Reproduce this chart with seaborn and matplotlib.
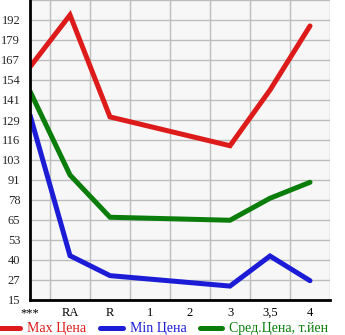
import numpy as np
import pandas as pd
import matplotlib
matplotlib.use("Agg")
import matplotlib.pyplot as plt
import seaborn as sns

categories = ["***", "RA", "R", "1", "2", "3", "3,5", "4"]
max_price = [162.3, 195.1, 130.7, np.nan, np.nan, 112.5, 147.7, 188.2]
min_price = [131.9, 43.0, 30.4, np.nan, np.nan, 23.8, 42.8, 27.2]
avg_price = [146.9, 94.0, 67.3, np.nan, np.nan, 65.4, 79.3, 89.4]
series_names = ["Max Цена", "Min Цена", "Сред.Цена, т.йен"]
series_colors = ["#dd1b1b", "#1c1cd6", "#0b7d0b"]
y_tick_labels = ["15", "27", "40", "53", "65", "78", "91", "103", "116",
                 "129", "141", "154", "167", "179", "192"]
y_min, y_step = 15, 12.64

sns.set_style("white")
plt.rcParams["font.family"] = ["Liberation Serif", "DejaVu Serif"]

fig = plt.figure(figsize=(3.45, 3.35), dpi=100)
ax = fig.add_axes([30 / 345, 35 / 335, 300 / 345, 300 / 335])
ax.set_facecolor("#f7f7f7")

frames = []
for name, vals in zip(series_names, [max_price, min_price, avg_price]):
    frames.append(pd.DataFrame({"x": np.arange(len(categories)), "price": vals,
                                "series": name}))
df = pd.concat(frames).dropna()

sns.lineplot(data=df, x="x", y="price", hue="series", hue_order=series_names,
             palette=series_colors, linewidth=3.6, ax=ax, legend=False,
             solid_capstyle="round", solid_joinstyle="miter")

y_top = y_min + 15 * y_step
ax.set_xlim(0, 7.5)
ax.set_ylim(y_min, y_top)
ax.set_xticks(np.arange(len(categories)))
ax.set_xticklabels(categories)
ax.set_xticks(np.arange(0.5, 7.5, 0.5), minor=True)
ax.set_yticks([y_min + i * y_step for i in range(len(y_tick_labels))])
ax.set_yticklabels(y_tick_labels)

ax.grid(True, which="minor", axis="x", color="#bdbdbd", linewidth=1.0)
ax.grid(True, which="major", axis="y", color="#bdbdbd", linewidth=1.0)
ax.tick_params(axis="x", which="major", length=0, labelsize=9, pad=5, colors="black")
ax.tick_params(axis="x", which="minor", length=4, width=1, direction="out")
ax.tick_params(axis="y", which="major", length=4, width=1, direction="out",
               labelsize=9, pad=3)
ax.set_xlabel("")
ax.set_ylabel("")

for side in ["top", "right"]:
    ax.spines[side].set_visible(False)
for side in ["left", "bottom"]:
    ax.spines[side].set_color("black")
    ax.spines[side].set_linewidth(2)
ax.axvline(7.5, color="#bdbdbd", linewidth=1.0)
ax.axhline(y_top, color="#bdbdbd", linewidth=1.0)

handles = [plt.Line2D([], [], color=c, linewidth=3.6, solid_capstyle="round")
           for c in series_colors]
leg = fig.legend(handles, series_names, loc="center left", bbox_to_anchor=(-0.005, 0.018),
                 ncol=3, frameon=False, fontsize=10, handlelength=1.6,
                 handletextpad=0.5, columnspacing=1.0, borderaxespad=0,
                 borderpad=0)
for txt, c in zip(leg.get_texts(), series_colors):
    txt.set_color(c)

fig.savefig("out.png", dpi=100)
